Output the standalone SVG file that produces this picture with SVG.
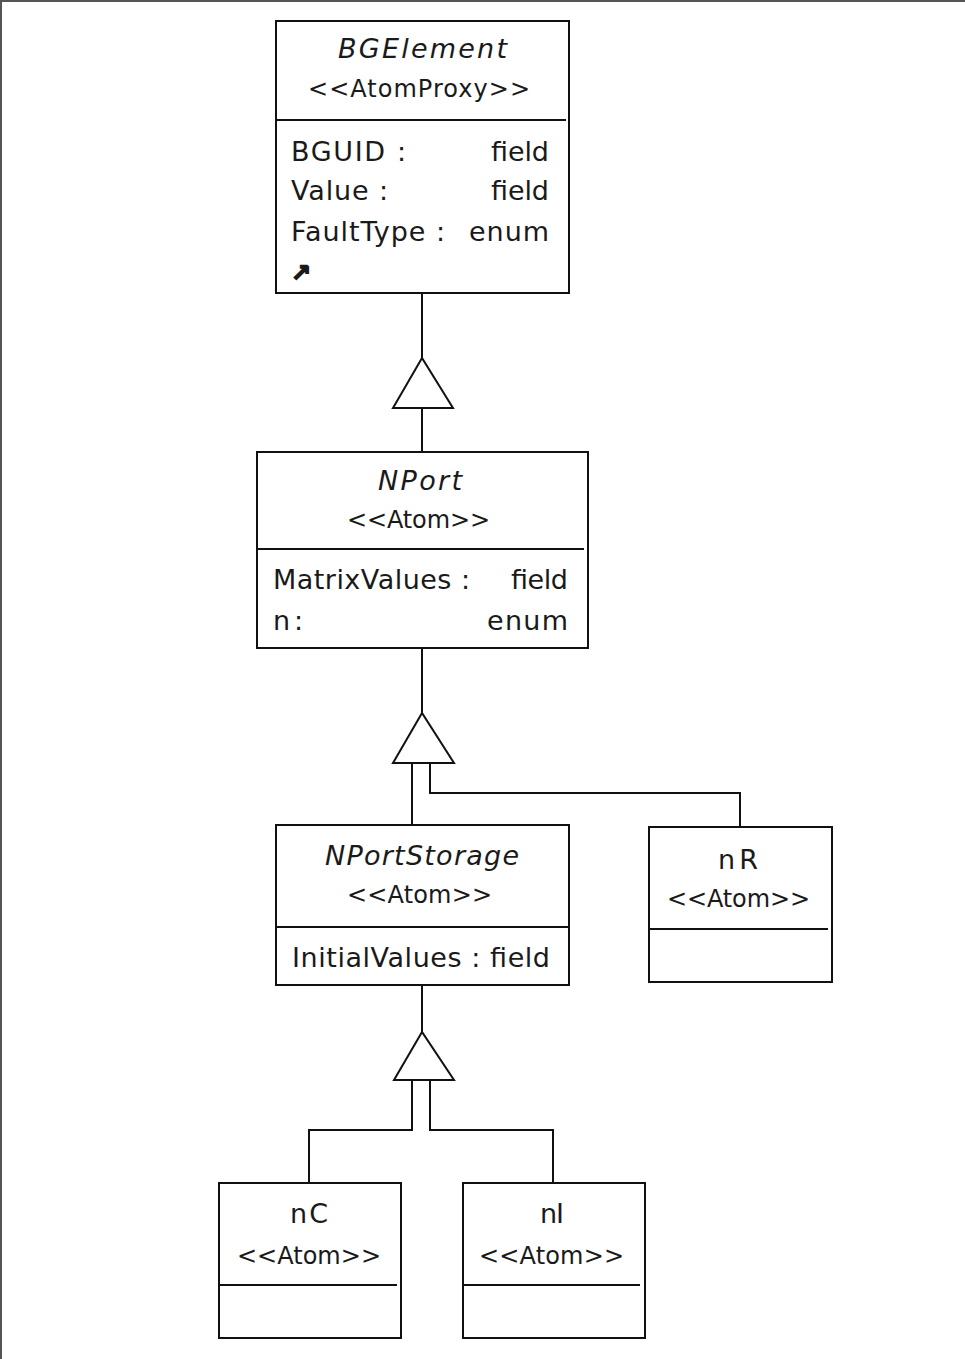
<svg xmlns="http://www.w3.org/2000/svg" width="965" height="1359" viewBox="0 0 965 1359">
  <style>
    .box { fill: #ffffff; stroke: #111111; stroke-width: 2; }
    .div { stroke: #111111; stroke-width: 2; }
    .edge { fill: none; stroke: #111111; stroke-width: 2; }
    .head { fill: #ffffff; stroke: #111111; stroke-width: 2; }
    text { font-family: "DejaVu Sans", "Liberation Sans", sans-serif; font-size: 27px; fill: #1a1a1a; }
    .name { font-style: italic; }
    .st { font-size: 24px; }
    .mid { text-anchor: middle; }
    .end { text-anchor: end; }
  </style>

  <rect width="965" height="1359" fill="#ffffff"/>
  <!-- frame edges -->
  <path d="M1,1359 V1 H965" fill="none" stroke="#555555" stroke-width="2"/>

  <!-- generalization connectors -->
  <g id="connectors">
    <path class="edge" d="M422,293 V358"/>
    <path class="edge" d="M422,408 V452"/>
    <polygon class="head" points="422,358 393,408 453,408"/>

    <path class="edge" d="M422,648 V713"/>
    <path class="edge" d="M412,763 V825"/>
    <path class="edge" d="M430,763 V793 H740 V827"/>
    <polygon class="head" points="422,713 393,763 454,763"/>

    <path class="edge" d="M422,985 V1032"/>
    <path class="edge" d="M412,1080 V1130 H309 V1183"/>
    <path class="edge" d="M430,1080 V1130 H553 V1183"/>
    <polygon class="head" points="422,1032 394,1080 454,1080"/>
  </g>

  <g id="BGElement">
    <rect class="box" x="276" y="21" width="293" height="272"/>
    <line class="div" x1="276" y1="120" x2="566" y2="120"/>
    <text class="name mid" x="422.5" y="58" textLength="169" lengthAdjust="spacing">BGElement</text>
    <text class="st mid" x="419" y="97" textLength="222" lengthAdjust="spacing">&lt;&lt;AtomProxy&gt;&gt;</text>
    <text x="291" y="161" textLength="115" lengthAdjust="spacing">BGUID :</text>
    <text class="end" x="549" y="161" textLength="58" lengthAdjust="spacing">field</text>
    <text x="291" y="200" textLength="97" lengthAdjust="spacing">Value :</text>
    <text class="end" x="549" y="200" textLength="58" lengthAdjust="spacing">field</text>
    <text x="291" y="241" textLength="154" lengthAdjust="spacing">FaultType :</text>
    <text class="end" x="549" y="241" textLength="80" lengthAdjust="spacing">enum</text>
    <text x="291" y="281" style="font-size:24px;font-weight:bold;stroke:#1a1a1a;stroke-width:1.5">↗</text>
  </g>

  <g id="NPort">
    <rect class="box" x="257" y="452" width="331" height="196"/>
    <line class="div" x1="257" y1="549" x2="584" y2="549"/>
    <text class="name mid" x="420" y="490" textLength="84" lengthAdjust="spacing">NPort</text>
    <text class="st mid" x="418.5" y="528" textLength="143" lengthAdjust="spacing">&lt;&lt;Atom&gt;&gt;</text>
    <text x="273" y="589" textLength="197" lengthAdjust="spacing">MatrixValues :</text>
    <text class="end" x="568" y="589" textLength="57" lengthAdjust="spacing">field</text>
    <text x="273" y="630" textLength="30" lengthAdjust="spacing">n :</text>
    <text class="end" x="568" y="630" textLength="81" lengthAdjust="spacing">enum</text>
  </g>

  <g id="NPortStorage">
    <rect class="box" x="276" y="825" width="293" height="160"/>
    <line class="div" x1="276" y1="927" x2="569" y2="927"/>
    <text class="name mid" x="422" y="865" textLength="194" lengthAdjust="spacing">NPortStorage</text>
    <text class="st mid" x="419.5" y="903" textLength="145" lengthAdjust="spacing">&lt;&lt;Atom&gt;&gt;</text>
    <text x="292" y="967" textLength="258" lengthAdjust="spacing">InitialValues : field</text>
  </g>

  <g id="nR">
    <rect class="box" x="649" y="827" width="183" height="155"/>
    <line class="div" x1="649" y1="929" x2="828" y2="929"/>
    <text class="mid" x="738" y="869" textLength="40" lengthAdjust="spacing">nR</text>
    <text class="st mid" x="738.5" y="907" textLength="143" lengthAdjust="spacing">&lt;&lt;Atom&gt;&gt;</text>
  </g>

  <g id="nC">
    <rect class="box" x="219" y="1183" width="182" height="155"/>
    <line class="div" x1="219" y1="1285" x2="397" y2="1285"/>
    <text class="mid" x="309" y="1223" textLength="38" lengthAdjust="spacing">nC</text>
    <text class="st mid" x="309" y="1264" textLength="144" lengthAdjust="spacing">&lt;&lt;Atom&gt;&gt;</text>
  </g>

  <g id="nI">
    <rect class="box" x="463" y="1183" width="182" height="155"/>
    <line class="div" x1="463" y1="1285" x2="640" y2="1285"/>
    <text class="mid" x="552" y="1223" textLength="24" lengthAdjust="spacing">nI</text>
    <text class="st mid" x="551.5" y="1264" textLength="145" lengthAdjust="spacing">&lt;&lt;Atom&gt;&gt;</text>
  </g>
</svg>
